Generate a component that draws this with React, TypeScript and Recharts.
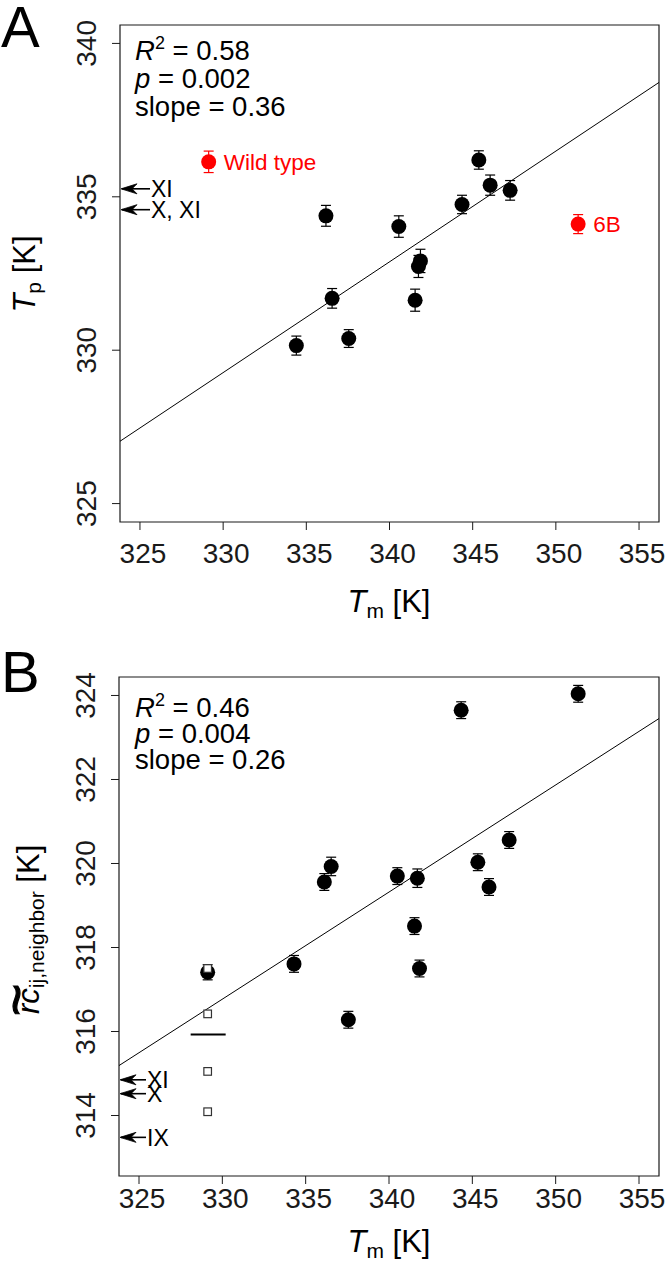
import React from 'react';
import { ScatterChart, Scatter, XAxis, YAxis, ErrorBar, ReferenceLine, ReferenceArea } from 'recharts';

const FONT = '"Liberation Sans", Arial, Helvetica, sans-serif';
const INK = '#1a1a1a';

// ---------- shared x axis ----------
const xDomain = [323.8, 356.2];
const xTicks = [325, 330, 335, 340, 345, 350, 355];

// ---------- Panel A ----------
const yDomainA = [324.4, 340.6];
const yTicksA = [325, 330, 335, 340];
const tmA = [345.37, 346.05, 347.25, 344.36, 336.18, 340.56, 341.86, 341.74, 341.54, 336.55, 337.55, 334.4];
const tpA = [336.2, 335.38, 335.21, 334.75, 334.38, 334.03, 332.91, 332.73, 331.63, 331.69, 330.38, 330.15];
const errA = [0.3, 0.33, 0.32, 0.3, 0.34, 0.35, 0.38, 0.36, 0.36, 0.32, 0.29, 0.31];
const redNamesA = ['Wild type', '6B'];
const redTmA = [329.13, 351.34];
const redTpA = [336.14, 334.11];
const redErrA = [0.35, 0.31];
const arrowLabelsA = ['XI', 'X, XI'];
const arrowValsA = [335.26, 334.58];
const fitA = { slope: 0.361, intercept: 210.14 };
const statsA = ['0.58', '0.002', '0.36'];

// ---------- Panel B ----------
const yDomainB = [312.56, 324.44];
const yTicksB = [314, 316, 318, 320, 322, 324];
const tmB = [351.35, 344.33, 347.21, 345.33, 346.0, 336.53, 336.12, 340.5, 341.7, 341.53, 341.83, 337.56, 334.3, 329.12];
const rcB = [324.04, 323.65, 320.56, 320.03, 319.44, 319.93, 319.56, 319.7, 319.65, 318.51, 317.5, 316.28, 317.61, 317.41];
const errB = [0.2, 0.2, 0.2, 0.2, 0.2, 0.22, 0.2, 0.2, 0.22, 0.2, 0.2, 0.2, 0.2, 0.18];
const squareTmB = 329.12;
const squareValsB = [317.5, 316.42, 315.05, 314.09];
const meanSpanB = [328.1, 330.2];
const meanValB = 315.93;
const arrowLabelsB = ['XI', 'X', 'IX'];
const arrowValsB = [314.85, 314.52, 313.48];
const fitB = { slope: 0.255, intercept: 232.62 };
const statsB = ['0.46', '0.004', '0.26'];

const mainA = tmA.map((x, i) => ({ x, y: tpA[i], err: errA[i] }));
const redA = redTmA.map((x, i) => ({ x, y: redTpA[i], err: redErrA[i], name: redNamesA[i] }));
const arrowsA = arrowValsA.map((y, i) => ({ x: xDomain[0], y, label: arrowLabelsA[i] }));
const mainB = tmB.map((x, i) => ({ x, y: rcB[i], err: errB[i] }));
const squaresB = squareValsB.map((y) => ({ x: squareTmB, y }));
const arrowsB = arrowValsB.map((y, i) => ({ x: xDomain[0], y, label: arrowLabelsB[i] }));

const fitSeg = (f: { slope: number; intercept: number }) => [
  { x: xDomain[0], y: f.intercept + f.slope * xDomain[0] },
  { x: xDomain[1], y: f.intercept + f.slope * xDomain[1] },
];

const TICK_FS = 28;

const makeXTick = (dy: number) => (props: any) => {
  const { x, y, payload } = props;
  return (
    <text x={x + 3} y={y + dy} textAnchor="middle" fontSize={TICK_FS} fontFamily={FONT} fill={INK}>
      {payload.value}
    </text>
  );
};

const YTick = (props: any) => {
  const { x, y, payload } = props;
  return (
    <text transform={`translate(${x - 16},${y}) rotate(-90)`} textAnchor="middle" fontSize={TICK_FS} fontFamily={FONT} fill={INK}>
      {payload.value}
    </text>
  );
};

const Dot = (props: any) => <circle cx={props.cx} cy={props.cy} r={7.5} fill="#000" />;

const RedDot = (props: any) => (
  <g>
    <circle cx={props.cx} cy={props.cy} r={7.5} fill="#ff0000" />
    <text x={props.cx + 15} y={props.cy + 8} fontSize={22.5} fontFamily={FONT} fill="#ff0000">
      {props.payload.name}
    </text>
  </g>
);

const Square = (props: any) => (
  <rect x={props.cx - 3.8} y={props.cy - 3.8} width={7.6} height={7.6} fill="#fff" stroke="#333" strokeWidth={1.2} />
);

const makeArrow = (len: number) => (props: any) => {
  const { cx, cy } = props;
  return (
    <g>
      <line x1={cx + 2} y1={cy} x2={cx + len} y2={cy} stroke="#000" strokeWidth={1.6} />
      <path
        d={`M${cx + 17},${cy - 5} L${cx + 1},${cy} L${cx + 17},${cy + 5} L${cx + 12},${cy} Z`}
        fill="#000"
        stroke="#000"
        strokeWidth={0.8}
        strokeLinejoin="round"
      />
      <text x={cx + len + 1} y={cy + 8.5} fontSize={23} fontFamily={FONT} fill="#000">
        {props.payload.label}
      </text>
    </g>
  );
};

const StatLines = ({ x, y0, gap, vals }: { x: number; y0: number; gap: number; vals: string[] }) => (
  <g fontFamily={FONT} fontSize={27.5} fill="#000">
    <text x={x} y={y0}>
      <tspan fontStyle="italic">R</tspan>
      <tspan fontSize={18} dy={-11}>2</tspan>
      <tspan dy={11}>{` = ${vals[0]}`}</tspan>
    </text>
    <text x={x} y={y0 + gap}>
      <tspan fontStyle="italic">p</tspan>
      <tspan>{` = ${vals[1]}`}</tspan>
    </text>
    <text x={x} y={y0 + 2 * gap}>{`slope = ${vals[2]}`}</text>
  </g>
);

const TmTitle = ({ x, y }: { x: number; y: number }) => (
  <text x={x} y={y} textAnchor="middle" fontFamily={FONT} fontSize={31} fill="#000">
    <tspan fontStyle="italic">T</tspan>
    <tspan fontSize={21} dy={6}>m</tspan>
    <tspan dy={-6}> [K]</tspan>
  </text>
);

export default function App() {
  return (
    <div style={{ position: 'absolute', left: 0, top: 0, width: 668, height: 1263, background: '#fff' }}>
      <div style={{ position: 'absolute', left: 0, top: 0 }}>
        <ScatterChart width={668} height={640} margin={{ top: 25, right: 9, bottom: 0, left: 0 }}>
          <XAxis
            type="number"
            dataKey="x"
            domain={xDomain}
            ticks={xTicks}
            allowDataOverflow
            height={118}
            tickSize={8}
            tickMargin={0}
            axisLine={false}
            tickLine={{ stroke: INK }}
            tick={makeXTick(33)}
          />
          <YAxis
            type="number"
            dataKey="y"
            domain={yDomainA}
            ticks={yTicksA}
            allowDataOverflow
            width={120}
            tickSize={8}
            tickMargin={0}
            axisLine={false}
            tickLine={{ stroke: INK }}
            tick={<YTick />}
          />
          <ReferenceArea x1={xDomain[0]} x2={xDomain[1]} y1={yDomainA[0]} y2={yDomainA[1]} fill="none" stroke={INK} strokeWidth={1.2} ifOverflow="visible" />
          <ReferenceLine segment={fitSeg(fitA)} stroke="#000" strokeWidth={1} ifOverflow="visible" />
          <Scatter data={arrowsA} shape={makeArrow(30)} isAnimationActive={false} />
          <Scatter data={mainA} shape={Dot} isAnimationActive={false}>
            <ErrorBar dataKey="err" direction="y" width={5} stroke="#000" strokeWidth={1.2} isAnimationActive={false} />
          </Scatter>
          <Scatter data={redA} shape={RedDot} isAnimationActive={false}>
            <ErrorBar dataKey="err" direction="y" width={5} stroke="#ff0000" strokeWidth={1.2} isAnimationActive={false} />
          </Scatter>
        </ScatterChart>
      </div>
      <div style={{ position: 'absolute', left: 0, top: 640 }}>
        <ScatterChart width={668} height={623} margin={{ top: 37, right: 9, bottom: 0, left: 0 }}>
          <XAxis
            type="number"
            dataKey="x"
            domain={xDomain}
            ticks={xTicks}
            allowDataOverflow
            height={87}
            tickSize={8}
            tickMargin={0}
            axisLine={false}
            tickLine={{ stroke: INK }}
            tick={makeXTick(24)}
          />
          <YAxis
            type="number"
            dataKey="y"
            domain={yDomainB}
            ticks={yTicksB}
            allowDataOverflow
            width={119}
            tickSize={8}
            tickMargin={0}
            axisLine={false}
            tickLine={{ stroke: INK }}
            tick={<YTick />}
          />
          <ReferenceArea x1={xDomain[0]} x2={xDomain[1]} y1={yDomainB[0]} y2={yDomainB[1]} fill="none" stroke={INK} strokeWidth={1.2} ifOverflow="visible" />
          <ReferenceLine segment={fitSeg(fitB)} stroke="#000" strokeWidth={1} ifOverflow="visible" />
          <ReferenceLine segment={[{ x: meanSpanB[0], y: meanValB }, { x: meanSpanB[1], y: meanValB }]} stroke="#000" strokeWidth={2} ifOverflow="visible" />
          <Scatter data={arrowsB} shape={makeArrow(27)} isAnimationActive={false} />
          <Scatter data={mainB} shape={Dot} isAnimationActive={false}>
            <ErrorBar dataKey="err" direction="y" width={5} stroke="#000" strokeWidth={1.2} isAnimationActive={false} />
          </Scatter>
          <Scatter data={squaresB} shape={Square} isAnimationActive={false} />
        </ScatterChart>
      </div>
      <svg width={668} height={1263} style={{ position: 'absolute', left: 0, top: 0, pointerEvents: 'none' }}>
        <text x={1} y={47} fontFamily={FONT} fontSize={58} fill="#000">A</text>
        <text x={1} y={692} fontFamily={FONT} fontSize={58} fill="#000">B</text>
        <StatLines x={135} y0={60} gap={28} vals={statsA} />
        <StatLines x={135} y0={717} gap={26} vals={statsB} />
        <TmTitle x={389} y={612} />
        <TmTitle x={389} y={1252} />
        <g transform="translate(35,274) rotate(-90)">
          <text textAnchor="middle" fontFamily={FONT} fontSize={31} fill="#000">
            <tspan fontStyle="italic">T</tspan>
            <tspan fontSize={21} dy={6}>p</tspan>
            <tspan dy={-6}> [K]</tspan>
          </text>
        </g>
        <g transform="translate(39,927) rotate(-90)">
          <text x={-87} y={0} fontFamily={FONT} fontSize={31} fill="#000">
            <tspan fontStyle="italic">rc</tspan>
            <tspan fontSize={21} dy={5}>ij,neighbor</tspan>
            <tspan dy={-5}> [K]</tspan>
          </text>
          <text x={-73} y={-4} textAnchor="middle" fontFamily={FONT} fontSize={56} fill="#000" stroke="#000" strokeWidth={1.2}>~</text>
        </g>
      </svg>
    </div>
  );
}
